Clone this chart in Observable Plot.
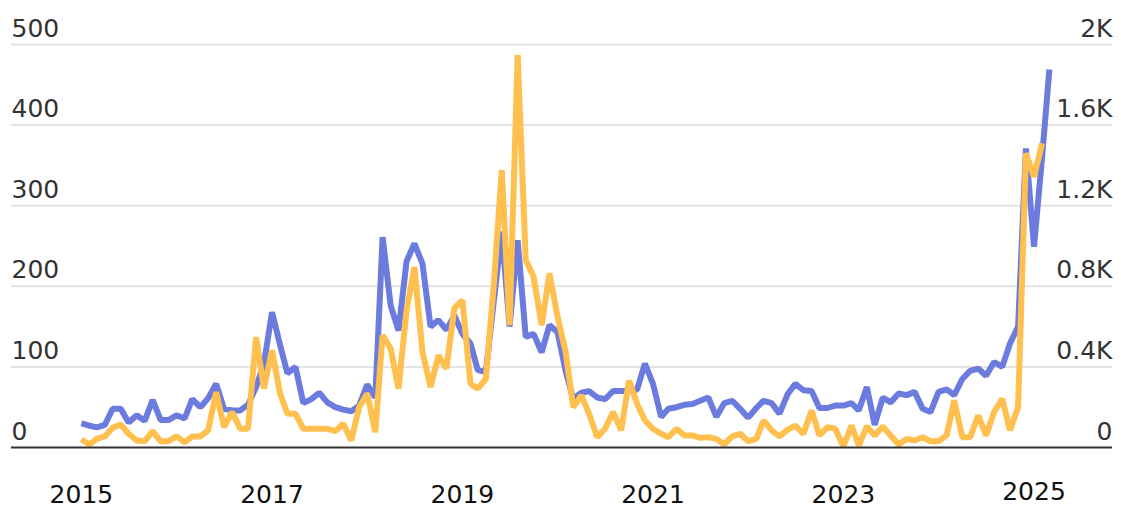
<!DOCTYPE html>
<html>
<head>
<meta charset="utf-8">
<script src="https://cdn.jsdelivr.net/npm/d3@7"></script>
<script src="https://cdn.jsdelivr.net/npm/@observablehq/plot@0.6"></script>
<style>
  html, body { margin: 0; padding: 0; background: #ffffff; }
  #chart svg { display: block; }
</style>
</head>
<body>
<div id="chart"></div>
<script>
// Monthly series, January 2015 onward
const leftSeries = [
  30, 27, 25, 28, 48, 48, 31, 40, 33, 59, 34, 34,
  40, 36, 60, 50, 61, 79, 48, 46, 46, 53, 75, 104,
  168, 127, 92, 100, 55, 60, 68, 56, 50, 47, 45, 52,
  78, 62, 261, 176, 145, 231, 253, 228, 150, 158, 146, 164,
  141, 129, 96, 94, 180, 268, 150, 257, 137, 141, 118, 152,
  143, 95, 60, 68, 70, 62, 60, 70, 70, 70, 72, 104,
  79, 38, 48, 50, 53, 54, 58, 62, 38, 55, 58, 48,
  37, 49, 58, 55, 42, 66, 79, 71, 70, 49, 49, 52,
  52, 55, 46, 75, 28, 62, 56, 67, 65, 69, 48, 44,
  69, 72, 65, 85, 95, 98, 89, 106, 100, 129, 150, 371,
  249, 360, 469
];
const rightSeries = [
  40, 15, 43, 55, 98, 114, 68, 35, 31, 81, 31, 31,
  55, 26, 55, 55, 85, 275, 101, 176, 93, 93, 548, 292,
  482, 267, 167, 167, 93, 93, 93, 93, 81, 118, 35, 200,
  267, 76, 557, 491, 292, 680, 896, 474, 300, 457, 391, 690,
  731, 317, 292, 341, 800, 1377, 607, 1949, 930, 847, 607, 864,
  648, 474, 200, 259, 167, 51, 93, 176, 85, 333, 217, 134,
  93, 68, 51, 93, 60, 60, 48, 51, 43, 15, 55, 68,
  31, 43, 134, 85, 55, 88, 109, 68, 184, 60, 101, 93,
  5, 109, 10, 104, 60, 104, 60, 15, 43, 35, 51, 31,
  31, 60, 234, 51, 51, 159, 60, 176, 242, 85, 200, 1460,
  1344, 1510
];
const leftTicks = [0, 100, 200, 300, 400, 500];
const rightTickLabels = ["0", "0.4K", "0.8K", "1.2K", "1.6K", "2K"];
const yearTicks = [2015, 2017, 2019, 2021, 2023];
const lastYearTick = [2025];
const rightToLeft = 4; // right axis 2K aligns with left axis 500

const months = d3.utcMonth.range(new Date(Date.UTC(2015, 0, 1)), new Date(Date.UTC(2025, 3, 1)));
const blueData = leftSeries.map((v, i) => ({date: months[i], value: v}));
const orangeData = rightSeries.map((v, i) => ({date: months[i], value: v}));
const yearDate = y => new Date(Date.UTC(y, 0, 1));

const blue = "#6b7cde";
const orange = "#ffc050";

const chart = Plot.plot({
  width: 1121,
  height: 508,
  marginLeft: 11,
  marginRight: 9,
  marginTop: 44,
  marginBottom: 61,
  style: {fontFamily: "'DejaVu Sans', sans-serif", fontSize: "25px", background: "#ffffff", overflow: "visible"},
  x: {type: "utc", domain: [new Date(Date.UTC(2014, 3, 8)), new Date(Date.UTC(2025, 9, 29))]},
  y: {domain: [0, 500]},
  marks: [
    Plot.gridY(leftTicks.filter(d => d > 0), {stroke: "#e4e4e4", strokeOpacity: 1, strokeWidth: 2}),
    Plot.axisY(leftTicks, {
      anchor: "left", tickSize: 0, tickPadding: 0, textAnchor: "start",
      lineAnchor: "bottom", dy: -8, fontSize: 25, fill: "#333333", label: null
    }),
    Plot.axisY(leftTicks, {
      anchor: "right", tickSize: 0, tickPadding: 0, textAnchor: "end",
      lineAnchor: "bottom", dy: -8, fontSize: 25, fill: "#333333", label: null,
      tickFormat: d => rightTickLabels[leftTicks.indexOf(d)]
    }),
    Plot.axisX(yearTicks.map(yearDate), {
      tickSize: 0, tickPadding: 0, lineAnchor: "bottom", dy: 55,
      fontSize: 25, fill: "#111111", label: null,
      tickFormat: d => String(d.getUTCFullYear())
    }),
    Plot.axisX(lastYearTick.map(yearDate), {
      tickSize: 0, tickPadding: 0, lineAnchor: "bottom", dy: 52,
      fontSize: 25, fill: "#111111", label: null,
      tickFormat: d => String(d.getUTCFullYear())
    }),
    Plot.lineY(blueData, {
      x: "date", y: "value", stroke: blue, strokeWidth: 6,
      strokeLinejoin: "miter", strokeLinecap: "butt"
    }),
    Plot.lineY(orangeData, {
      x: "date", y: d => d.value / rightToLeft, stroke: orange, strokeWidth: 6,
      strokeLinejoin: "miter", strokeLinecap: "butt"
    }),
    Plot.ruleY([0], {stroke: "#333333", strokeWidth: 2})
  ]
});
document.getElementById("chart").appendChild(chart);
</script>
</body>
</html>
